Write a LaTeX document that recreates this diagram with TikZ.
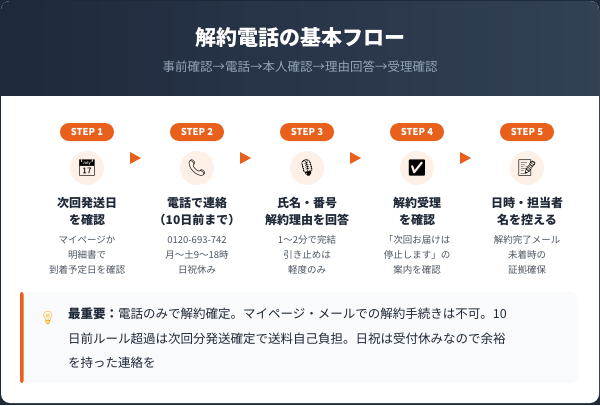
\documentclass[tikz,border=0pt]{standalone}
\usepackage{fontspec}
\setmainfont{Noto Sans CJK JP}
\newfontfamily\emo{Noto Emoji}
\usetikzlibrary{positioning}
\definecolor{navyA}{HTML}{1E293B}
\definecolor{navyB}{HTML}{334155}
\definecolor{accent}{HTML}{E8601C}
\definecolor{softbg}{HTML}{FDF1E7}
\definecolor{inktext}{HTML}{1F2937}
\definecolor{greytext}{HTML}{4B5563}
\definecolor{subtext}{HTML}{94A3B8}
\definecolor{notebg}{HTML}{F8FAFC}
\tikzset{
  steppill/.style = {rounded corners=9pt, fill=accent, text=white, font=\fontsize{9.5}{9.5}\selectfont\bfseries, minimum width=54pt, minimum height=18pt, inner sep=0pt},
  iconbg/.style = {circle, fill=softbg, minimum size=34pt, inner sep=0pt, font=\emo\fontsize{16}{16}\selectfont},
  steptitle/.style = {align=center, text=inktext, font=\fontsize{12}{17}\selectfont\bfseries},
  stepnote/.style = {align=center, text=greytext, font=\fontsize{9.5}{15}\selectfont},
  arrowtri/.style = {fill=accent}
}
\begin{document}
\begin{tikzpicture}[x=1pt, y=-1pt]
	\useasboundingbox (0,0) rectangle (600,405);
	\fill[navyA] (0,0) rectangle (600,405);
	\fill[white, rounded corners=9pt] (1,1) rectangle (599,403);
	\begin{scope}
		\clip[rounded corners=9pt] (1,1) rectangle (599,403);
		\shade[left color=navyA, right color=navyB] (0,0) rectangle (600,95);
	\end{scope}
	\node[text=white, font=\fontsize{21}{21}\selectfont\bfseries] (title) at (300,38) {解約電話の基本フロー};
	\node[text=subtext, font=\fontsize{12.5}{12.5}\selectfont] (subtitle) at (300,67) {事前確認→電話→本人確認→理由回答→受理確認};
	% steps
	\foreach \i/\x/\ic/\ta/\tb/\na/\nb/\nc in {
		1/87/📅/次回発送日/を確認/マイページか/明細書で/到着予定日を確認,
		2/197/📞/電話で連絡/（10日前まで）/0120-693-742/月〜土9〜18時/日祝休み,
		3/307/🎙/氏名・番号/解約理由を回答/1〜2分で完結/引き止めは/軽度のみ,
		4/417/✅/解約受理/を確認/「次回お届けは/停止します」の/案内を確認,
		5/527/📝/日時・担当者/名を控える/解約完了メール/未着時の/証拠確保} {
		\node[steppill] (pill\i) at (\x,132) {STEP \i};
		\node[iconbg] (icon\i) at (\x,168) {\ic};
		\node[steptitle] (title\i) at (\x,211) {\ta\\\tb};
		\node[stepnote] (note\i) at (\x,255) {\na\\\nb\\\nc};
	}
	\foreach \x in {135,245,355,465}
		\fill[arrowtri] (\x-5,152) -- (\x+6,158) -- (\x-5,164) -- cycle;
	% note box
	\fill[notebg, rounded corners=8pt] (20,292) rectangle (578,383);
	\fill[accent, rounded corners=2pt] (20,292) rectangle (23.5,383);
	\node[font=\emo\fontsize{13}{13}\selectfont, text=orange!70!yellow] (bulb) at (48,318) {💡};
	\node[anchor=north west, align=left, text=inktext, font=\fontsize{12.5}{24.5}\selectfont, inner sep=0pt] (notetext) at (68,308) {\textbf{最重要：}電話のみで解約確定。マイページ・メールでの解約手続きは不可。10\\日前ルール超過は次回分発送確定で送料自己負担。日祝は受付休みなので余裕\\を持った連絡を};
\end{tikzpicture}
\end{document}
